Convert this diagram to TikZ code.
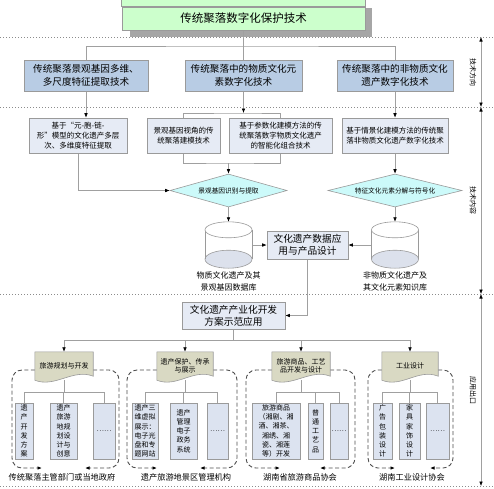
\documentclass[tikz,border=0pt]{standalone}
\usepackage{fontspec}
\setmainfont{Noto Sans CJK SC}
\usetikzlibrary{arrows.meta,shapes.geometric,calc,backgrounds}
\definecolor{titlefill}{HTML}{CCFFCC}
\definecolor{bluefill}{HTML}{B8CCE4}
\definecolor{lightfill}{HTML}{E6EBF5}
\definecolor{cyanfill}{HTML}{CCFAFA}
\definecolor{docfill}{HTML}{D9D9C3}
\definecolor{innerfill}{HTML}{DCE3F0}
\definecolor{linegray}{HTML}{A0A0A0}
\definecolor{borderg}{HTML}{9A9A9A}
\definecolor{shadowg}{HTML}{A6A6A6}
\definecolor{cylfill}{HTML}{DCE1EC}
\definecolor{dashg}{HTML}{4D4D4D}
\definecolor{dotg}{HTML}{8C8C8C}
\newcommand\mydocshape[1]{%
  \filldraw[fill=docfill,draw=borderg,line width=0.6pt] (#1.north west) -- (#1.north east) -- ($(#1.south east)+(0,-4)$) .. controls ($(#1.south east)+(-20,-12)$) and ($(#1.south west)+(20,8)$) .. (#1.south west) -- cycle;}
\newcommand\mycyl[1]{%
  \fill[white] ($(#1.north west)+(0,8)$) rectangle ($(#1.south east)+(0,-9)$);
  \filldraw[fill=cylfill,draw=borderg,line width=0.6pt] ($(#1.south)+(0,-9)$) ellipse [x radius=23.5pt,y radius=9pt];
  \draw[borderg,line width=0.6pt] ($(#1.north west)+(0,8)$) -- ($(#1.south west)+(0,-9)$) ($(#1.north east)+(0,8)$) -- ($(#1.south east)+(0,-9)$);
  \filldraw[fill=white,draw=borderg,line width=0.6pt] ($(#1.north)+(0,8)$) ellipse [x radius=23.5pt,y radius=8pt];}
\begin{document}
\begin{tikzpicture}[x=1pt,y=-1pt,
  every node/.style={inner sep=0pt, align=center},
  titlebox/.style={draw=borderg, fill=titlefill, line width=0.6pt, minimum width=243pt, minimum height=23pt, font=\fontsize{11.5}{14}\selectfont},
  dirbox/.style={draw=borderg, fill=bluefill, line width=0.6pt, minimum height=31pt, font=\fontsize{9.6}{12.5}\selectfont},
  techbox/.style={draw=borderg, fill=lightfill, line width=0.6pt, minimum height=35pt, font=\fontsize{7.5}{10}\selectfont},
  dia/.style={diamond, aspect=4, draw=borderg, fill=cyanfill, line width=0.6pt, minimum height=33pt, font=\fontsize{6.7}{8}\selectfont},
  cylbox/.style={minimum width=47pt, minimum height=46pt},
  appbox/.style={draw=borderg, fill=lightfill, line width=0.6pt, font=\fontsize{9.7}{12}\selectfont},
  docbox/.style={minimum height=28pt, font=\fontsize{7}{8.5}\selectfont},
  itembox/.style={draw=borderg, fill=innerfill, line width=0.6pt, minimum height=56pt, font=\fontsize{7}{9.3}\selectfont},
  lbl/.style={font=\fontsize{8.2}{12}\selectfont},
  sidelbl/.style={font=\fontsize{7}{8}\selectfont, rotate=-90},
  cyllbl/.style={font=\fontsize{8}{12}\selectfont},
  conn/.style={draw=linegray, line width=0.6pt},
  arr/.style={-{Latex[length=4.5pt,width=3.6pt,color=black]}},
  twoway/.style={{Latex[length=4.5pt,width=3.6pt,color=black]}-{Latex[length=4.5pt,width=3.6pt,color=black]}},
  grp/.style={draw=dashg, line width=0.9pt, dash pattern=on 4pt off 2.5pt, rounded corners=10pt, -{Latex[length=4.5pt,width=3.6pt,color=black]}},
  dotl/.style={draw=dotg, line width=0.8pt, dash pattern=on 0.8pt off 2.2pt},
]
\useasboundingbox (0,0) rectangle (494,488);

% title
\node[titlebox] (title) at (243.5,18.5) {传统聚落数字化保护技术};

% direction row
\node[dirbox, minimum width=124pt] (dirA) at (86,75.5) {传统聚落景观基因多维、\\多尺度特征提取技术};
\node[dirbox, minimum width=117pt] (dirB) at (243.5,75.5) {传统聚落中的物质文化元\\素数字化技术};
\node[dirbox, minimum width=116pt] (dirC) at (395,75.5) {传统聚落中的非物质文化\\遗产数字化技术};

% tech row
\node[techbox, minimum width=98pt] (techA) at (78,135.5) {基于“元-胞-链-\\形”模型的文化遗产多层\\次、多维度特征提取};
\node[techbox, minimum width=73pt] (techB) at (183.5,135.5) {景观基因视角的传\\统聚落建模技术};
\node[techbox, minimum width=103pt] (techC) at (280.5,135.5) {基于参数化建模方法的传\\统聚落数字物质文化遗产\\的智能化组合技术};
\node[techbox, minimum width=106pt] (techD) at (395,135.5) {基于情景化建模方法的传统聚\\落非物质文化遗产数字化技术};

% diamonds
\node[dia, minimum width=117pt] (diaA) at (228.5,190.5) {景观基因识别与提取};
\node[dia, minimum width=134pt] (diaB) at (395,190.5) {特征文化元素分解与符号化};

% cylinders
\node[cylbox] (cylA) at (228.5,245) {};
\node[cylbox] (cylB) at (395,245) {};
\node[cyllbl] (cylAl) at (228.5,281) {物质文化遗产及其\\景观基因数据库};
\node[cyllbl] (cylBl) at (395,281) {非物质文化遗产及\\其文化元素知识库};

% application boxes
\node[appbox, minimum width=81pt, minimum height=28pt] (app) at (307.5,245) {文化遗产数据应\\用与产品设计};
\node[appbox, minimum width=103pt, minimum height=27pt] (demo) at (233.5,315.5) {文化遗产产业化开发\\方案示范应用};

% documents
\node[docbox, minimum width=58pt] (docA) at (64,366) {旅游规划与开发};
\node[docbox, minimum width=56pt] (docB) at (185,366) {遗产保护、传承\\与展示};
\node[docbox, minimum width=58pt] (docC) at (301,366) {旅游商品、工艺\\品开发与设计};
\node[docbox, minimum width=56pt] (docD) at (410,366) {工业设计};

% items
\node[itembox, minimum width=18pt] (iA1) at (24,431) {遗\\产\\开\\发\\方\\案};
\node[itembox, minimum width=27pt] (iA2) at (63.5,431) {遗产\\旅游\\地规\\划设\\计与\\创意};
\node[itembox, minimum width=22pt] (iA3) at (104,431) {……};
\node[itembox, minimum width=26pt] (iB1) at (145,431) {遗产三\\维虚拟\\展示：\\电子光\\盘和专\\题网站};
\node[itembox, minimum width=27pt] (iB2) at (183.5,431) {遗产\\管理\\电子\\政务\\系统};
\node[itembox, minimum width=21pt] (iB3) at (217.5,431) {……};
\node[itembox, minimum width=48pt] (iC1) at (276,431) {旅游商品\\（湘剧、湘\\酒、湘茶、\\湘绣、湘\\瓷、湘莲\\等）开发};
\node[itembox, minimum width=15pt] (iC2) at (315.5,431) {普\\通\\工\\艺\\品};
\node[itembox, minimum width=18pt] (iC3) at (339,431) {……};
\node[itembox, minimum width=19pt] (iD1) at (382.5,431) {广\\告\\包\\装\\设\\计};
\node[itembox, minimum width=21pt] (iD2) at (409.5,431) {家\\具\\家\\饰\\设\\计};
\node[itembox, minimum width=23pt] (iD3) at (437.5,431) {……};

% group labels
\node[lbl] (gA) at (62,477) {传统聚落主管部门或当地政府};
\node[lbl] (gB) at (186,477) {遗产旅游地景区管理机构};
\node[lbl] (gC) at (300,477) {湖南省旅游商品协会};
\node[lbl] (gD) at (412,477) {湖南工业设计协会};

% side labels
\node[sidelbl] (sA) at (473,72) {技术方向};
\node[sidelbl] (sB) at (473,200) {技术内容};
\node[sidelbl] (sC) at (473,390) {应用出口};

\coordinate (s0) at (481,37);
\coordinate (s1) at (481,107);
\coordinate (s2) at (481,294);
\coordinate (s3) at (481,486);
\coordinate (topbar) at (0,46);
\coordinate (brTop) at (0,113);
\coordinate (brBot) at (0,163);
\coordinate (appbar) at (0,340);
\coordinate (ibar) at (0,392);

\begin{scope}[on background layer]
  % shadow and title strip
  \fill[shadowg] (130,8) rectangle (372,37);
  \filldraw[fill=titlefill,draw=borderg,line width=0.6pt] ($(title.north west)+(0,-8)$) rectangle (title.north east);
  % dotted separators
  \draw[dotl] (0,37) -- (494,37);
  \draw[dotl] (0,107) -- (494,107);
  \draw[dotl] (0,294) -- (494,294);
  \draw[dotl] (0,486) -- (494,486);
  % side arrows
  \draw[conn,twoway] (s0) -- (s1);
  \draw[conn,twoway] (s1) -- (s2);
  \draw[conn,twoway] (s2) -- (s3);
  % connectors
  \draw[conn] (title.south) -- (dirB.north);
  \draw[conn] (dirA.north) |- (title.south |- topbar) -| (dirC.north);
  \draw[conn,arr] (dirA.south) -- (dirA.south |- techA.north);
  \draw[conn,arr] (dirC.south) -- (techD.north);
  \draw[conn] (techB.north) |- (dirB.south |- brTop) -| (techC.north);
  \draw[conn,arr] (dirB.south) -- (dirB.south |- brTop);
  \draw[conn] (techB.south) |- (diaA.north |- brBot) -| (techC.south);
  \draw[conn,arr] (diaA.north |- brBot) -- (diaA.north);
  \draw[conn,arr] (techA.south) |- (diaA.west);
  \draw[conn,arr] (techD.south) -- (diaB.north);
  \draw[conn,arr] (diaA.south) -- (cylA.north);
  \draw[conn,arr] (diaB.south) -- (cylB.north);
  \draw[conn,arr] (cylA.east) -- (app.west);
  \draw[conn,arr] (cylB.west) -- (app.east);
  \draw[conn,arr] (app.south) |- (demo.east);
  \draw[conn] (demo.south) -- (demo.south |- appbar);
  \draw[conn] (docA.north |- appbar) -- (docD.north |- appbar);
  \foreach \d in {docA,docB,docC,docD} {\draw[conn,arr] (\d.north |- appbar) -- (\d.north);}
  % inner brackets
  \foreach \d/\a/\b/\c in {docA/iA1/iA2/iA3,docB/iB1/iB2/iB3,docC/iC1/iC2/iC3,docD/iD1/iD2/iD3} {
    \draw[conn] (\d.south) -- (\d.south |- ibar);
    \draw[conn] (\a.north) |- (\c.north |- ibar) -- (\c.north);
    \draw[conn] (\b.north) -- (\b.north |- ibar);
  }
  % dashed groups
  \draw[grp] (docA.west |- 0,370) -| (12,468) -- (42,468);
  \draw[grp] (docA.east |- 0,370) -| (119,468) -- (85,468);
  \draw[grp] (docB.west |- 0,370) -| (127,468) -- (157,468);
  \draw[grp] (docB.east |- 0,370) -| (237,468) -- (200,468);
  \draw[grp] (docC.west |- 0,370) -| (246,468) -- (280,468);
  \draw[grp] (docC.east |- 0,370) -| (355,468) -- (320,468);
  \draw[grp] (docD.west |- 0,370) -| (368,468) -- (395,468);
  \draw[grp] (docD.east |- 0,370) -| (453,468) -- (430,468);
  % documents
  \mydocshape{docA}
  \mydocshape{docB}
  \mydocshape{docC}
  \mydocshape{docD}
  % cylinders
  \mycyl{cylA}
  \mycyl{cylB}
\end{scope}
\end{tikzpicture}
\end{document}
